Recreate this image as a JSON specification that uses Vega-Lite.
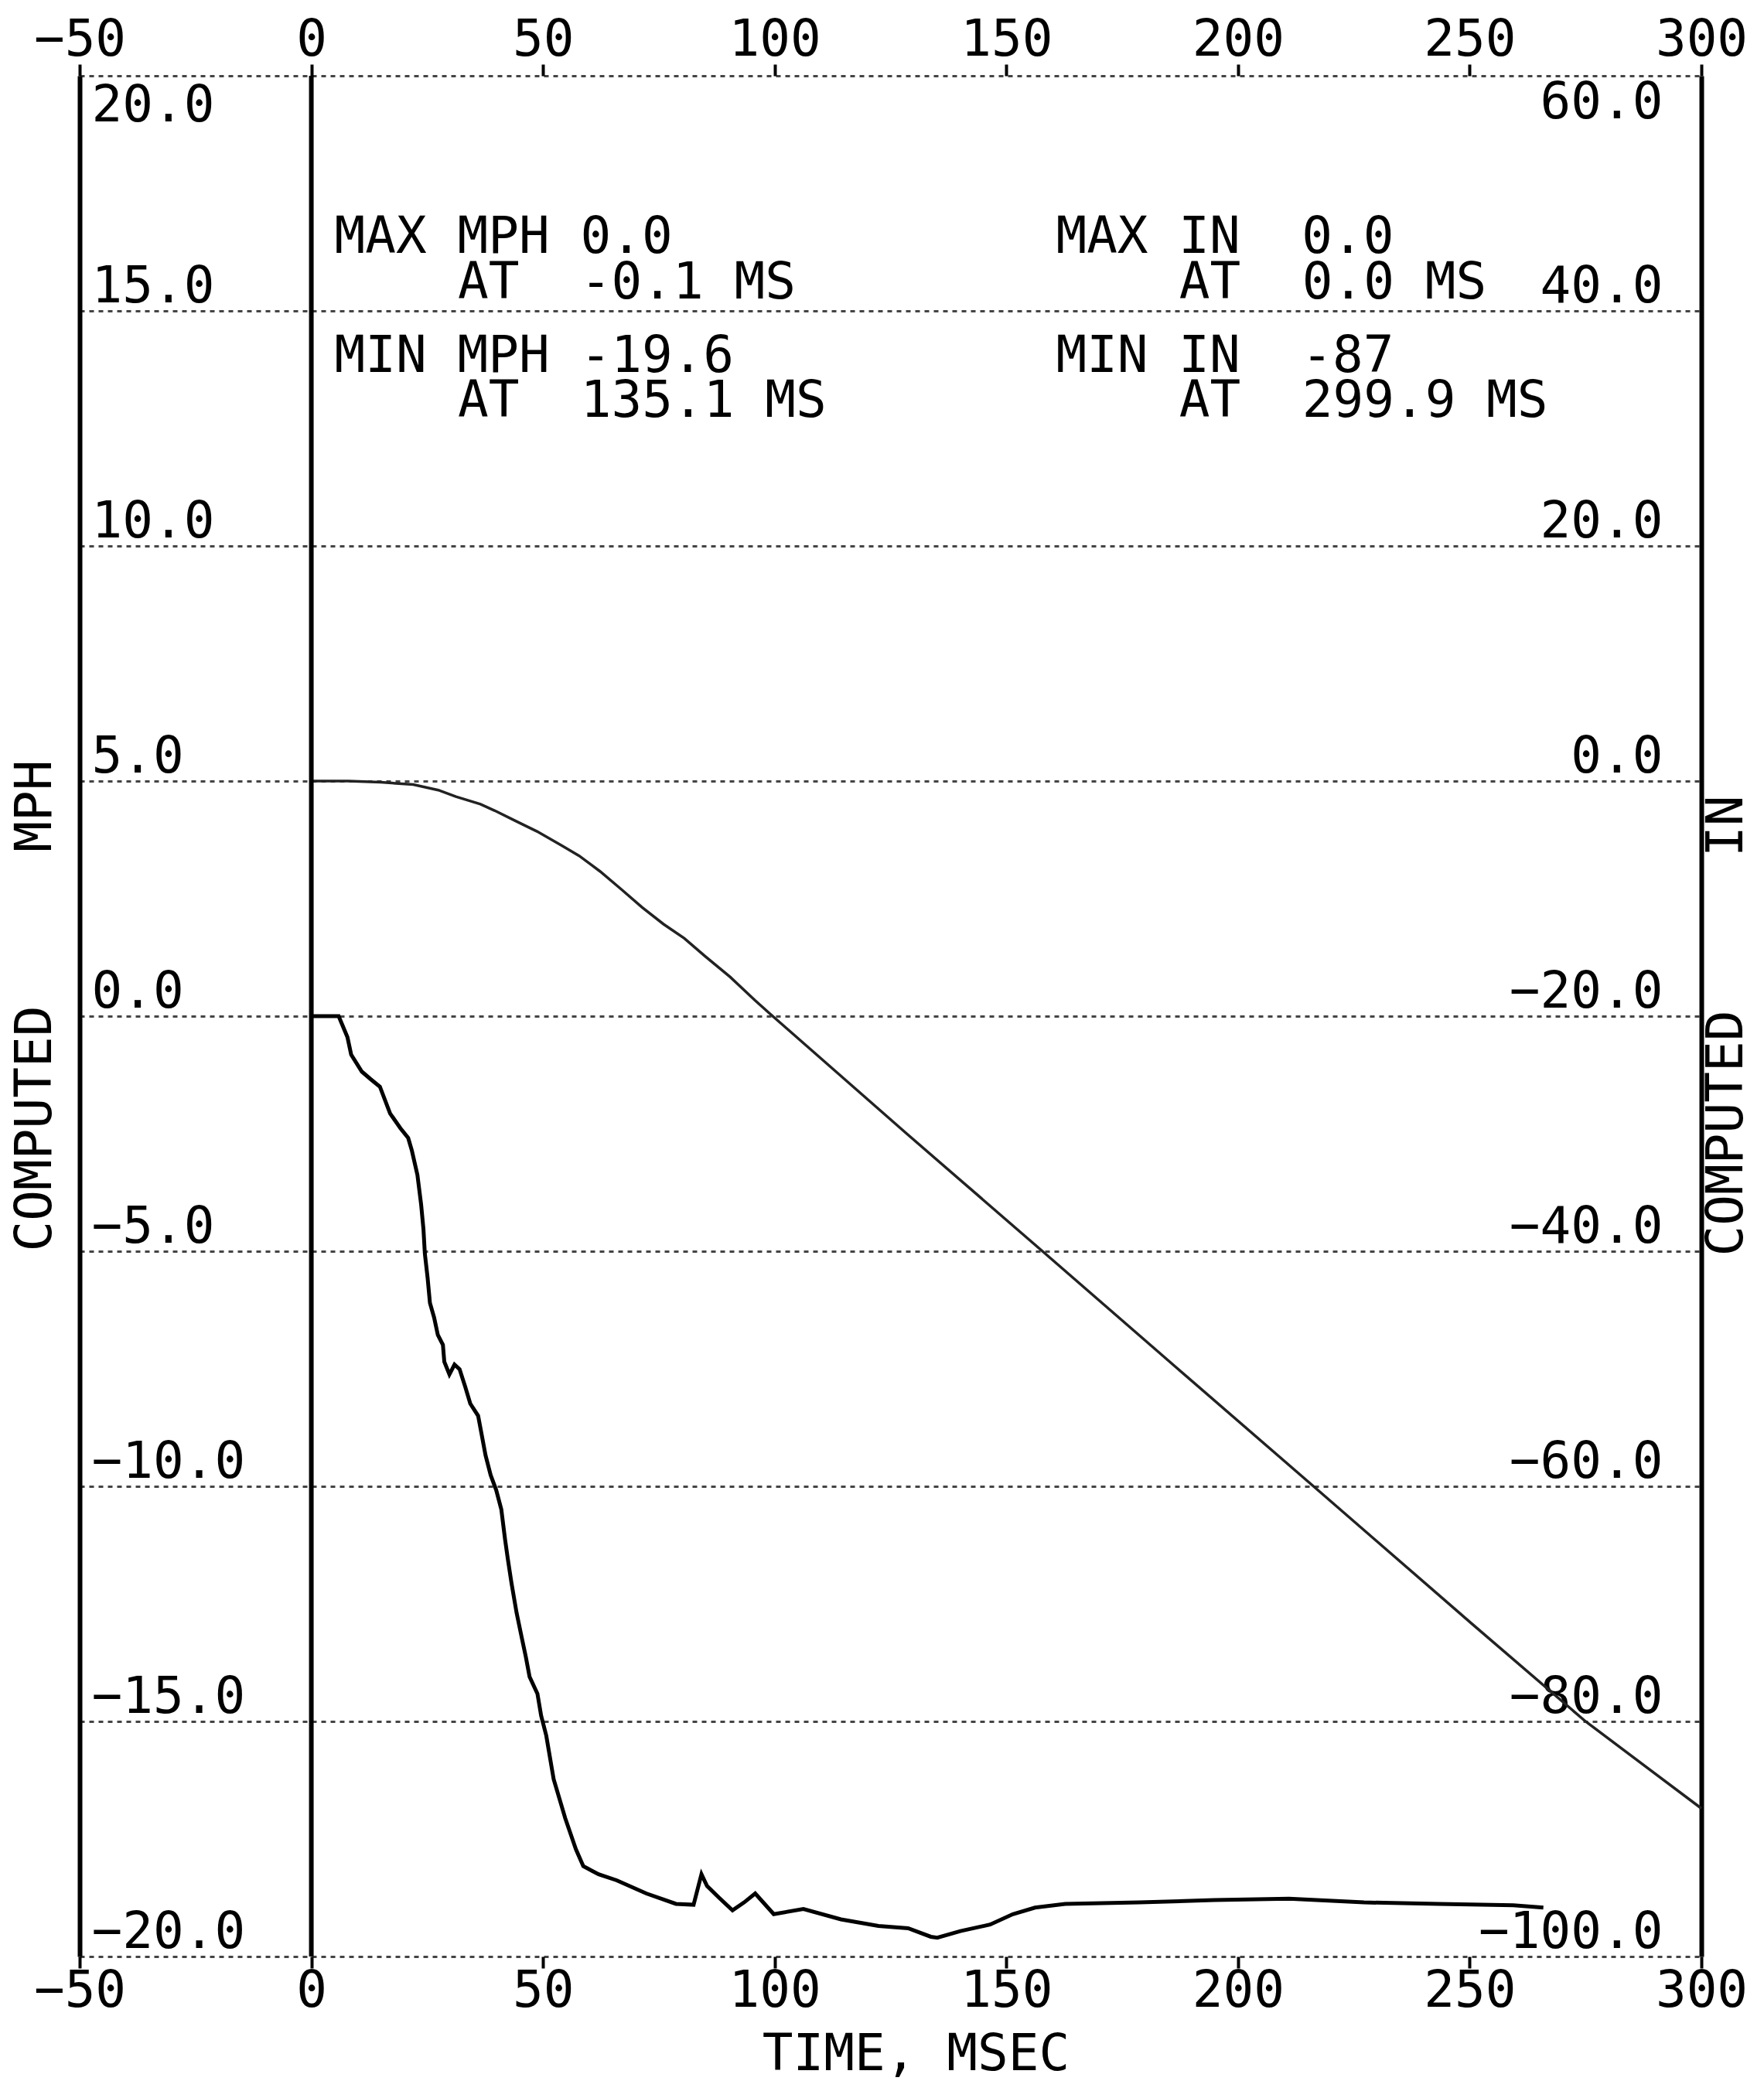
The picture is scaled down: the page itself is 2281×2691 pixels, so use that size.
{
  "$schema": "https://vega.github.io/schema/vega-lite/v6.json",
  "autosize": {"type": "none"},
  "padding": {"left": 103, "top": 98, "right": 81, "bottom": 161},
  "width": 2097,
  "height": 2432,
  "background": "white",
  "config": {
    "view": {"stroke": null},
    "font": "DejaVu Sans Mono",
    "axis": {
      "labelFont": "DejaVu Sans Mono",
      "titleFont": "DejaVu Sans Mono",
      "labelColor": "black",
      "titleColor": "black",
      "labelFontSize": 66,
      "titleFontSize": 66,
      "titleFontWeight": "normal",
      "labelLimit": 1000,
      "titleLimit": 3000
    }
  },
  "datasets": {
    "mph": [
      {"t": 0, "v": 0}, {"t": 3, "v": 0}, {"t": 5.9, "v": 0}, {"t": 7.8, "v": -0.45},
      {"t": 8.6, "v": -0.82}, {"t": 10.9, "v": -1.18}, {"t": 12.8, "v": -1.34}, {"t": 14.8, "v": -1.5},
      {"t": 17.0, "v": -2.07}, {"t": 19.2, "v": -2.38}, {"t": 20.9, "v": -2.59}, {"t": 21.7, "v": -2.86},
      {"t": 22.9, "v": -3.38}, {"t": 23.7, "v": -4.01}, {"t": 24.2, "v": -4.53}, {"t": 24.5, "v": -5.05},
      {"t": 25.1, "v": -5.57}, {"t": 25.6, "v": -6.1}, {"t": 26.5, "v": -6.41}, {"t": 27.3, "v": -6.78},
      {"t": 28.4, "v": -6.99}, {"t": 28.7, "v": -7.35}, {"t": 29.8, "v": -7.62}, {"t": 30.9, "v": -7.41},
      {"t": 32.0, "v": -7.51}, {"t": 33.2, "v": -7.88}, {"t": 34.3, "v": -8.24}, {"t": 36.0, "v": -8.5},
      {"t": 36.8, "v": -8.92}, {"t": 37.6, "v": -9.34}, {"t": 38.7, "v": -9.76}, {"t": 39.9, "v": -10.08},
      {"t": 41.0, "v": -10.49}, {"t": 41.8, "v": -11.12}, {"t": 42.4, "v": -11.54}, {"t": 43.2, "v": -12.06},
      {"t": 44.3, "v": -12.69}, {"t": 45.4, "v": -13.21}, {"t": 46.3, "v": -13.63}, {"t": 47.1, "v": -14.05},
      {"t": 48.8, "v": -14.41}, {"t": 49.6, "v": -14.88}, {"t": 50.7, "v": -15.3}, {"t": 52.3, "v": -16.23},
      {"t": 54.8, "v": -17.06}, {"t": 57.1, "v": -17.72}, {"t": 58.7, "v": -18.08}, {"t": 62.0, "v": -18.25},
      {"t": 65.9, "v": -18.38}, {"t": 72.3, "v": -18.66}, {"t": 78.7, "v": -18.88}, {"t": 82.5, "v": -18.9},
      {"t": 84.2, "v": -18.25}, {"t": 85.4, "v": -18.5}, {"t": 88.0, "v": -18.75}, {"t": 90.9, "v": -19.02},
      {"t": 93.4, "v": -18.85}, {"t": 95.8, "v": -18.66}, {"t": 99.8, "v": -19.1}, {"t": 106.2, "v": -18.99},
      {"t": 114.3, "v": -19.21}, {"t": 122.4, "v": -19.35}, {"t": 128.8, "v": -19.4}, {"t": 133.7, "v": -19.58},
      {"t": 135.1, "v": -19.6}, {"t": 140.1, "v": -19.46}, {"t": 146.5, "v": -19.32}, {"t": 151.4, "v": -19.1},
      {"t": 156.2, "v": -18.96}, {"t": 162.7, "v": -18.88}, {"t": 178.8, "v": -18.85}, {"t": 194.9, "v": -18.8},
      {"t": 211.0, "v": -18.77}, {"t": 227.2, "v": -18.85}, {"t": 243.3, "v": -18.88}, {"t": 259.4, "v": -18.91},
      {"t": 265.9, "v": -18.96}
    ],
    "inch": [
      {"t": 0, "v": 0}, {"t": 8, "v": 0}, {"t": 15, "v": -0.1}, {"t": 22, "v": -0.3},
      {"t": 27.4, "v": -0.77}, {"t": 31.2, "v": -1.32}, {"t": 36.5, "v": -1.97}, {"t": 39.6, "v": -2.52},
      {"t": 44.1, "v": -3.4}, {"t": 48.7, "v": -4.28}, {"t": 54.0, "v": -5.48}, {"t": 57.8, "v": -6.36},
      {"t": 62.3, "v": -7.68}, {"t": 66.9, "v": -9.21}, {"t": 71.4, "v": -10.75}, {"t": 76.0, "v": -12.17},
      {"t": 80.5, "v": -13.38}, {"t": 85.0, "v": -14.91}, {"t": 90.4, "v": -16.67}, {"t": 95.7, "v": -18.64},
      {"t": 99.0, "v": -19.8}, {"t": 128.5, "v": -30}, {"t": 157.8, "v": -40}, {"t": 187.0, "v": -50},
      {"t": 216.3, "v": -60}, {"t": 250.5, "v": -71.7}, {"t": 275.0, "v": -80}, {"t": 300, "v": -87.4}
    ],
    "notes": [
      {"t": 5.0, "v": 16.23, "label": "MAX\u00a0MPH\u00a00.0"},
      {"t": 31.6, "v": 15.26, "label": "AT\u00a0\u00a0-0.1\u00a0MS"},
      {"t": 5.0, "v": 13.7, "label": "MIN\u00a0MPH\u00a0-19.6"},
      {"t": 31.6, "v": 12.75, "label": "AT\u00a0\u00a0135.1\u00a0MS"},
      {"t": 160.7, "v": 16.23, "label": "MAX\u00a0IN\u00a0\u00a00.0"},
      {"t": 187.3, "v": 15.26, "label": "AT\u00a0\u00a00.0\u00a0MS"},
      {"t": 160.7, "v": 13.7, "label": "MIN\u00a0IN\u00a0\u00a0-87"},
      {"t": 187.3, "v": 12.75, "label": "AT\u00a0\u00a0299.9\u00a0MS"}
    ],
    "zero": [{"t": 0}]
  },
  "layer": [
    {
      "data": {"name": "mph"},
      "mark": {"type": "line", "color": "black", "strokeWidth": 5},
      "encoding": {
        "x": {
          "field": "t", "type": "quantitative",
          "scale": {"domain": [-50, 300], "nice": false, "zero": false},
          "axis": {
            "orient": "bottom",
            "values": [-50, 0, 50, 100, 150, 200, 250, 300],
            "format": "d",
            "domain": false,
            "grid": false,
            "ticks": true,
            "tickSize": 15,
            "tickWidth": 4,
            "tickColor": "black",
            "labelPadding": -3,
            "labelFlush": false,
            "labelOverlap": false,
            "title": "TIME,\u00a0MSEC",
            "titleX": 1081,
            "titleY": 126,
            "titleAlign": "center",
            "titleBaseline": "middle"
          }
        },
        "y": {
          "field": "v", "type": "quantitative",
          "scale": {"domain": [-20, 20], "nice": false, "zero": false},
          "axis": {
            "orient": "left",
            "values": [-20, -15, -10, -5, 0, 5, 10, 15, 20],
            "format": ".1f",
            "grid": true,
            "gridDash": [6, 6],
            "gridWidth": 3,
            "gridColor": "#444444",
            "domain": true,
            "domainWidth": 6,
            "domainColor": "black",
            "ticks": false,
            "labelAlign": "left",
            "labelPadding": -15,
            "labelBaseline": {"condition": {"test": "datum.value == 20", "value": "top"}, "value": "alphabetic"},
            "labelOffset": {"condition": {"test": "datum.value == 20", "value": 6}, "value": -12},
            "labelOverlap": false,
            "labelFlush": false,
            "title": "COMPUTED\u00a0\u00a0\u00a0\u00a0\u00a0MPH",
            "titleAngle": 270,
            "titleX": -58,
            "titleY": 1202,
            "titleAlign": "center",
            "titleBaseline": "middle"
          }
        }
      }
    },
    {
      "data": {"name": "inch"},
      "mark": {"type": "line", "color": "#222222", "strokeWidth": 3.5},
      "encoding": {
        "x": {"field": "t", "type": "quantitative", "scale": {"domain": [-50, 300], "nice": false, "zero": false}, "axis": null},
        "y": {
          "field": "v", "type": "quantitative",
          "scale": {"domain": [-100, 60], "nice": false, "zero": false},
          "axis": {
            "orient": "right",
            "values": [-100, -80, -60, -40, -20, 0, 20, 40, 60],
            "format": ".1f",
            "grid": false,
            "domain": true,
            "domainWidth": 6,
            "domainColor": "black",
            "ticks": false,
            "labelAlign": "right",
            "labelPadding": -50,
            "labelBaseline": {"condition": {"test": "datum.value == 60", "value": "top"}, "value": "alphabetic"},
            "labelOffset": {"condition": {"test": "datum.value == 60", "value": 2}, "value": -12},
            "labelOverlap": false,
            "labelFlush": false,
            "title": "COMPUTED\u00a0\u00a0\u00a0\u00a0\u00a0IN",
            "titleAngle": 270,
            "titleX": 32,
            "titleY": 1228,
            "titleAlign": "center",
            "titleBaseline": "middle"
          }
        }
      }
    },
    {
      "data": {"name": "notes"},
      "mark": {"type": "text", "align": "left", "baseline": "alphabetic", "font": "DejaVu Sans Mono", "fontSize": 66, "color": "black"},
      "encoding": {
        "x": {"field": "t", "type": "quantitative", "scale": {"domain": [-50, 300], "nice": false, "zero": false}, "axis": null},
        "y": {"field": "v", "type": "quantitative", "scale": {"domain": [-20, 20], "nice": false, "zero": false}, "axis": null},
        "text": {"field": "label"}
      }
    },
    {
      "data": {"name": "zero"},
      "mark": {"type": "rule", "color": "black", "strokeWidth": 6},
      "encoding": {
        "x": {
          "field": "t", "type": "quantitative",
          "scale": {"domain": [-50, 300], "nice": false, "zero": false},
          "axis": {
            "orient": "top",
            "values": [-50, 0, 50, 100, 150, 200, 250, 300],
            "format": "d",
            "domain": false,
            "grid": false,
            "ticks": true,
            "tickSize": 15,
            "tickWidth": 4,
            "tickColor": "black",
            "labelPadding": -2,
            "labelFlush": false,
            "labelOverlap": false,
            "title": null
          }
        }
      }
    }
  ],
  "resolve": {"scale": {"y": "independent"}, "axis": {"x": "independent", "y": "independent"}}
}
